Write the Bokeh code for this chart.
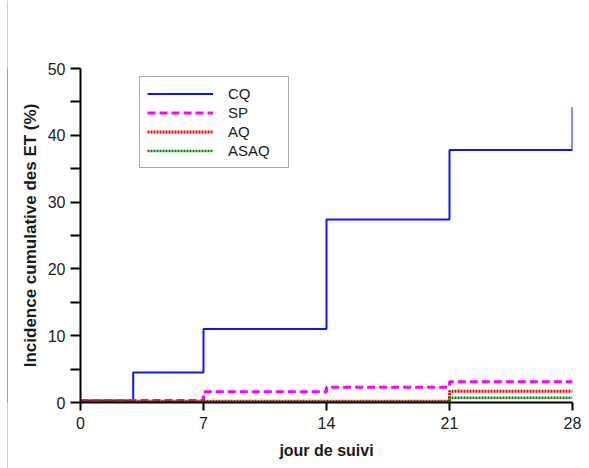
from bokeh.plotting import figure
from bokeh.layouts import row
from bokeh.models import FixedTicker, Legend, LegendItem, Spacer
from bokeh.embed import file_html
from bokeh.resources import INLINE

# data
cq_days = [0, 3, 7, 14, 21, 28]
cq_vals = [0.3, 4.5, 11.0, 27.4, 37.8, 44.2]
sp_days = [0, 7, 14, 21, 28]
sp_vals = [0.3, 1.6, 2.3, 3.1, 3.1]
aq_days = [0, 21, 28]
aq_vals = [0.2, 1.7, 1.7]
asaq_days = [0, 21, 28]
asaq_vals = [0.1, 0.7, 0.7]
x_ticks = [0, 7, 14, 21, 28]
y_ticks = [0, 10, 20, 30, 40, 50]
y_minor = [5, 15, 25, 35, 45]

FONT = "Liberation Sans"

# 1px dark strip = page edge line at the far left
edge = figure(width=1, height=468, output_backend="svg", toolbar_location=None,
              x_range=(0, 1), y_range=(0, 1), min_border=0)
edge.axis.visible = False
edge.grid.visible = False
edge.outline_line_color = None
edge.background_fill_color = "#3a3a3a"
edge.border_fill_color = "#3a3a3a"

p = figure(width=581, height=468, output_backend="svg", toolbar_location=None,
           x_range=(0, 28), y_range=(0, 50),
           min_border_left=72, min_border_right=17, min_border_top=68, min_border_bottom=66)
p.outline_line_color = None
p.grid.visible = False
p.background_fill_color = "white"
p.border_fill_color = "white"

r_cq = p.step(cq_days, cq_vals, mode="after", line_color="#0a14ff", line_width=2)
r_sp = p.step(sp_days, sp_vals, mode="after", line_color="#ff00ff", line_width=3, line_dash="8 4")
r_aq = p.step(aq_days, aq_vals, mode="after", line_color="#ff0000", line_width=3, line_dash="2 1")
r_asaq = p.step(asaq_days, asaq_vals, mode="after", line_color="#008000", line_width=2.5, line_dash="2 1")

# axes
p.xaxis.ticker = FixedTicker(ticks=x_ticks, minor_ticks=[])
p.yaxis.ticker = FixedTicker(ticks=y_ticks, minor_ticks=y_minor)
for ax in (p.xaxis[0], p.yaxis[0]):
    ax.axis_line_width = 2
    ax.axis_line_color = "black"
    ax.major_tick_line_width = 2
    ax.major_tick_line_color = "black"
    ax.major_tick_in = 0
    ax.major_label_text_font = FONT
    ax.major_label_text_font_size = "16px"
    ax.major_label_text_color = "#1a1a1a"
    ax.axis_label_text_font = FONT
    ax.axis_label_text_font_style = "bold"
    ax.axis_label_text_color = "#1a1a1a"
p.xaxis.axis_label_text_font_size = "16px"
p.yaxis.axis_label_text_font_size = "17px"
p.xaxis.major_tick_out = 8
p.xaxis.major_label_standoff = 6
p.xaxis.minor_tick_line_color = None
p.yaxis.major_tick_out = 10
p.yaxis.minor_tick_out = 10
p.yaxis.minor_tick_in = 0
p.yaxis.minor_tick_line_width = 2
p.yaxis.minor_tick_line_color = "black"
p.yaxis.major_label_standoff = 5
p.xaxis.axis_label = "jour de suivi"
p.yaxis.axis_label = "Incidence cumulative des ET (%)"
p.xaxis.axis_label_standoff = 10
p.yaxis.axis_label_standoff = 5

legend = Legend(items=[
    LegendItem(label="CQ", renderers=[r_cq]),
    LegendItem(label="SP", renderers=[r_sp]),
    LegendItem(label="AQ", renderers=[r_aq]),
    LegendItem(label="ASAQ", renderers=[r_asaq]),
], location=(59, 234))
legend.glyph_width = 66
legend.glyph_height = 19
legend.label_height = 19
legend.label_width = 53
legend.label_standoff = 15
legend.spacing = 0
legend.padding = 7
legend.margin = 0
legend.border_line_color = "#555555"
legend.border_line_width = 1
legend.label_text_font = FONT
legend.label_text_font_size = "15px"
legend.label_text_color = "#1a1a1a"
legend.background_fill_alpha = 1
p.add_layout(legend, "center")

layout = row(Spacer(width=7, height=468), edge, p, spacing=0)
open("out.html", "w").write(file_html(layout, INLINE))
